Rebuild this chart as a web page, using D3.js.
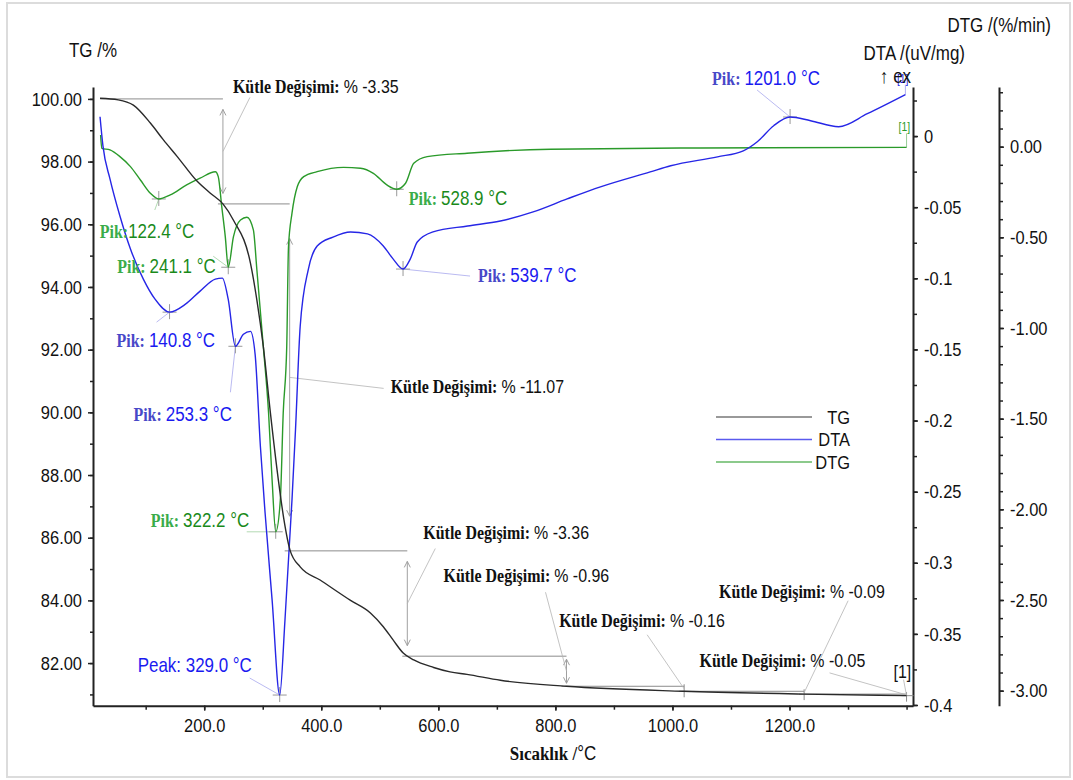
<!DOCTYPE html>
<html>
<head>
<meta charset="utf-8">
<script src="https://cdn.jsdelivr.net/npm/d3@7"></script>
<style>
body { margin: 0; background: #fff; }
svg text { font-family: "Liberation Sans", Arial, sans-serif; }
.serif { font-family: "Liberation Serif", "Times New Roman", serif; font-weight: bold; }
</style>
</head>
<body>
<div id="chart"></div>
<script>
const width = 1073, height = 780;

// TG curve (%)
const tgTemp = [22, 53, 79, 108, 130, 154, 188, 210, 232, 250, 279, 290, 301, 313, 327, 336, 347, 364, 398, 450, 484, 506, 523, 540, 558, 592, 620, 649, 706, 819, 1019, 1224, 1400];
const tgMass = [100.02, 99.97, 99.8, 99.23, 98.7, 98.16, 97.37, 97.0, 96.65, 96.13, 94.76, 93.58, 92.1, 90.0, 87.8, 86.6, 85.58, 85.07, 84.65, 84.0, 83.6, 83.16, 82.73, 82.32, 82.1, 81.86, 81.72, 81.64, 81.45, 81.26, 81.1, 81.01, 80.96];

// DTA curve (uV/mg)
const dtaTemp = [22, 27, 39, 56, 74, 96, 116, 140.8, 168, 193, 219, 231, 241, 253.3, 267, 279, 287, 296, 304, 316, 329, 338, 350, 356, 364, 378, 393, 420, 450, 479, 506, 523, 539.7, 552, 564, 591, 650, 706, 762, 820, 877, 962, 997, 1077, 1121, 1145, 1173, 1201, 1236, 1284, 1333, 1398];
const dtaVal = [0.0136, -0.0069, -0.0301, -0.0562, -0.0794, -0.1006, -0.1147, -0.1238, -0.1182, -0.109, -0.1006, -0.0999, -0.1147, -0.1478, -0.1394, -0.1373, -0.1535, -0.2183, -0.2648, -0.3261, -0.393, -0.3402, -0.2556, -0.2063, -0.1337, -0.0935, -0.0773, -0.071, -0.0674, -0.0688, -0.0773, -0.0865, -0.0935, -0.0865, -0.0745, -0.0674, -0.0632, -0.0597, -0.0533, -0.0442, -0.0357, -0.0252, -0.0209, -0.0146, -0.0104, -0.004, 0.0073, 0.0134, 0.0108, 0.0066, 0.0157, 0.0291];

// DTG curve (%/min)
const dtgTemp = [23, 25, 39, 56, 74, 91, 108, 122.4, 142, 170, 193, 219, 224, 230, 236, 241.1, 250, 262, 273, 284, 290, 301, 310, 316, 322.2, 330, 335, 341, 344, 350, 359, 370, 393, 438, 467, 489, 512, 528.9, 544, 558, 581, 649, 792, 1048, 1400];
const dtgVal = [0.064, -0.009, -0.018, -0.055, -0.11, -0.184, -0.257, -0.2885, -0.266, -0.211, -0.174, -0.138, -0.165, -0.331, -0.496, -0.665, -0.496, -0.404, -0.389, -0.459, -0.68, -1.103, -1.47, -1.838, -2.124, -1.952, -1.469, -1.103, -0.552, -0.367, -0.221, -0.165, -0.138, -0.114, -0.119, -0.147, -0.211, -0.235, -0.202, -0.092, -0.055, -0.036, -0.014, -0.007, -0.004];

// peak annotations
const peakTemp = [122.4, 241.1, 140.8, 253.3, 322.2, 329.0, 528.9, 539.7, 1201.0];
const peakCurve = ["DTG", "DTG", "DTA", "DTA", "DTG", "DTA", "DTG", "DTA", "DTA"];
const peakPrefix = ["Pik:", "Pik: ", "Pik: ", "Pik: ", "Pik: ", "Peak: ", "Pik: ", "Pik: ", "Pik: "];

// mass change steps on TG
const stepStartTemp = 22;
const stepStartMass = 100;
const stepTemp = [232, 346, 547, 819, 1020, 1225, 1400];
const stepChange = [-3.35, -11.07, -3.36, -0.96, -0.16, -0.09, -0.05];

// ticks
const tgTicks = [82, 84, 86, 88, 90, 92, 94, 96, 98, 100];
const tgMinor = d3.range(81, 101, 1);
const tempTicks = [200, 400, 600, 800, 1000, 1200];
const tempMinor = d3.range(100, 1500, 100);
const dtaTicks = [-0.4, -0.35, -0.3, -0.25, -0.2, -0.15, -0.1, -0.05, 0];
const dtaMinor = d3.range(-0.4, 0.03, 0.025);
const dtgTicks = [-3, -2.5, -2, -1.5, -1, -0.5, 0];
const dtgMinor = d3.range(-3, 0.31, 0.1);

const legendNames = ["TG", "DTA", "DTG"];

const colTG = "#2a2a2a", colDTA = "#2626e6", colDTG = "#2a9a2a";
// the reference lettering is tall and narrow: bigger size, squeezed sideways
const FS = 1.16, SX = 0.86;

const svg = d3.select("#chart").append("svg")
    .attr("width", width)
    .attr("height", height);

// outer frame
svg.append("rect")
    .attr("x", 7).attr("y", 3).attr("width", 1063).attr("height", 774)
    .attr("fill", "none").attr("stroke", "#dcdcdc").attr("stroke-width", 2);

const x = d3.scaleLinear().domain([10, 1411]).range([93, 913]);
const yTG = d3.scaleLinear().domain([80.64, 100.38]).range([705.7, 87]);
const yDTA = d3.scaleLinear().domain([-0.4005, 0.0345]).range([705.7, 87]);
const yDTG = d3.scaleLinear().domain([-3.083, 0.329]).range([705.7, 87]);

const noNegZero = n => (Math.abs(n) < 1e-9 ? 0 : n);

function styleAxis(g) {
    g.selectAll(".domain").attr("stroke", "#222").attr("stroke-width", 2);
    g.selectAll(".tick line").attr("stroke", "#222").attr("stroke-width", 1.5);
    g.selectAll(".tick text").attr("font-size", 16.5 * FS).attr("fill", "#111")
        .attr("font-family", "Liberation Sans, Arial, sans-serif");
}
function minorAxis(axis, pos) {
    const g = svg.append("g").attr("transform", pos).call(axis.tickFormat("").tickSizeOuter(0));
    g.select(".domain").remove();
    g.selectAll(".tick line").attr("stroke", "#222").attr("stroke-width", 1.5);
}

// left TG axis
minorAxis(d3.axisLeft(yTG).tickValues(tgMinor).tickSize(3), "translate(93,0)");
svg.append("g").attr("transform", "translate(93,0)")
    .call(d3.axisLeft(yTG).tickValues(tgTicks).tickFormat(d => d.toFixed(2)).tickSize(5).tickPadding(6).tickSizeOuter(0))
    .call(styleAxis);

// bottom temperature axis
minorAxis(d3.axisBottom(x).tickValues(tempMinor).tickSize(4), "translate(0,705.7)");
svg.append("g").attr("transform", "translate(0,705.7)")
    .call(d3.axisBottom(x).tickValues(tempTicks).tickFormat(d => d.toFixed(1)).tickSize(5).tickPadding(8).tickSizeOuter(0))
    .call(styleAxis);

// DTA axis
minorAxis(d3.axisRight(yDTA).tickValues(dtaMinor).tickSize(4), "translate(913,0)");
svg.append("g").attr("transform", "translate(913,0)")
    .call(d3.axisRight(yDTA).tickValues(dtaTicks).tickFormat(d => String(+noNegZero(d).toFixed(2))).tickSize(5).tickPadding(6).tickSizeOuter(0))
    .call(styleAxis);

// DTG axis
minorAxis(d3.axisRight(yDTG).tickValues(dtgMinor).tickSize(4), "translate(999,0)");
svg.append("g").attr("transform", "translate(999,0)")
    .call(d3.axisRight(yDTG).tickValues(dtgTicks).tickFormat(d => noNegZero(d).toFixed(2)).tickSize(5).tickPadding(6).tickSizeOuter(0))
    .call(styleAxis);

// axis titles
svg.append("text").attr("x", 69).attr("y", 57).attr("font-size", 17 * FS).attr("fill", "#111").text("TG /%");
svg.append("text").attr("x", 1051).attr("y", 32).attr("text-anchor", "end").attr("font-size", 17 * FS).attr("fill", "#111").text("DTG /(%/min)");
svg.append("text").attr("x", 965).attr("y", 60).attr("text-anchor", "end").attr("font-size", 17 * FS).attr("fill", "#111").text("DTA /(uV/mg)");
svg.append("text").attr("x", 897).attr("y", 83).attr("font-size", 12).attr("fill", colDTA).text("[1]");
svg.append("text").attr("x", 880).attr("y", 83).attr("font-size", 17 * FS).attr("fill", "#111").text("↑ ex");
const xt = svg.append("text").attr("x", 553).attr("y", 760).attr("text-anchor", "middle").attr("font-size", 17 * FS).attr("fill", "#111");
xt.append("tspan").attr("class", "serif").text("Sıcaklık /");
xt.append("tspan").text("°C");

// curves
const lineTG = d3.line().x((d, i) => x(tgTemp[i])).y(d => yTG(d)).curve(d3.curveMonotoneX);
const lineDTA = d3.line().x((d, i) => x(dtaTemp[i])).y(d => yDTA(d)).curve(d3.curveMonotoneX);
const lineDTG = d3.line().x((d, i) => x(dtgTemp[i])).y(d => yDTG(d)).curve(d3.curveMonotoneX);

const annot = svg.append("g");
const curves = svg.append("g").attr("fill", "none").attr("stroke-width", 1.4);
curves.append("path").attr("d", lineDTG(dtgVal)).attr("stroke", colDTG);
curves.append("path").attr("d", lineDTA(dtaVal)).attr("stroke", colDTA);
curves.append("path").attr("d", lineTG(tgMass)).attr("stroke", colTG);

// end markers [1]
const dtgEnd = [x(dtgTemp[dtgTemp.length - 1]), yDTG(dtgVal[dtgVal.length - 1])];
annot.append("line").attr("x1", dtgEnd[0]).attr("y1", dtgEnd[1]).attr("x2", dtgEnd[0]).attr("y2", dtgEnd[1] - 14)
    .attr("stroke", "#7cc07c").attr("stroke-width", 0.8);
svg.append("text").attr("x", dtgEnd[0] - 8).attr("y", dtgEnd[1] - 16).attr("font-size", 12).attr("fill", colDTG).text("[1]");
const dtaEnd = [x(dtaTemp[dtaTemp.length - 1]), yDTA(dtaVal[dtaVal.length - 1])];
annot.append("line").attr("x1", dtaEnd[0]).attr("y1", dtaEnd[1]).attr("x2", dtaEnd[0]).attr("y2", dtaEnd[1] - 10)
    .attr("stroke", "#9a9af0").attr("stroke-width", 0.8);

// peak annotations
const dtaAt = d3.scaleLinear().domain(dtaTemp).range(dtaVal);
const dtgAt = d3.scaleLinear().domain(dtgTemp).range(dtgVal);
// label offsets from peak point: [label dx, label dy, leader dx, leader dy]
const peakLayout = [
    [-59, 39, -4, 11], [-111, 6, -15, -11], [-53, 35, -13, 10], [-102, 75, -5, 46],
    [-125, -5, -29, 0], [-142, -23, -30, -17], [12, 16, null, null], [75, 13, 67, 7], [-78, -32, -33, -27]
];
peakTemp.forEach((t, i) => {
    const isDTA = peakCurve[i] === "DTA";
    const px = x(t), py = isDTA ? yDTA(dtaAt(t)) : yDTG(dtgAt(t));
    const [lx, ly, ex, ey] = peakLayout[i];
    if (ex !== null) {
        annot.append("line").attr("x1", px).attr("y1", py).attr("x2", px + ex).attr("y2", py + ey)
            .attr("stroke", isDTA ? "#a8a8ee" : "#9fd09f").attr("stroke-width", 0.8);
    }
    annot.append("path").attr("d", `M${px - 7},${py}H${px + 7}M${px},${py - 8}V${py + 7}`)
        .attr("stroke", "#999").attr("stroke-width", 1);
    const txt = svg.append("text").attr("x", px + lx).attr("y", py + ly).attr("font-size", 17 * FS);
    const pre = peakPrefix[i];
    if (pre.startsWith("Peak")) {
        txt.attr("fill", "#1a1af0").text(pre + t.toFixed(1) + " °C");
    } else {
        txt.append("tspan").attr("class", "serif").attr("font-size", 16 * FS)
            .attr("fill", isDTA ? "#4848c8" : "#3aac4a").text(pre);
        txt.append("tspan").attr("fill", isDTA ? "#1a1af0" : "#1a8a1a").text(t.toFixed(1) + " °C");
    }
});

// mass change annotations
const levels = [stepStartMass];
stepChange.forEach(c => levels.push(+(levels[levels.length - 1] + c).toFixed(2)));
const grey = "#8c8c8c";
// label offsets from step midpoint: [label dx, label dy, leader dx, leader dy]
const stepLayout = [
    [10, -58, 27, -54], [101, 16, 94, 11], [16, -65, 28, -55], [-123, -89, -21, -79],
    [-125, -62, -37, -54], [-85, -95, 44, -92], [-207, -28, -77, -22]
];
// top line at the starting mass
annot.append("line").attr("x1", x(stepStartTemp)).attr("x2", x(stepTemp[0]))
    .attr("y1", yTG(levels[0])).attr("y2", yTG(levels[0])).attr("stroke", grey);
stepTemp.forEach((t, i) => {
    const sx = x(t);
    const y0 = yTG(levels[i]), y1 = yTG(levels[i + 1]);
    const xEnd = i < stepTemp.length - 1 ? x(stepTemp[i + 1]) : sx + 7;
    annot.append("line").attr("x1", sx - 5).attr("x2", xEnd).attr("y1", y1).attr("y2", y1).attr("stroke", grey);
    const len = y1 - y0;
    if (len > 15) {
        const a = y0 + len * 0.1, b = y1 - len * 0.1;
        annot.append("path")
            .attr("d", `M${sx},${a}V${b}M${sx - 3},${a + 6}L${sx},${a}L${sx + 3},${a + 6}M${sx - 3},${b - 6}L${sx},${b}L${sx + 3},${b - 6}`)
            .attr("fill", "none").attr("stroke", "#a0a0a0").attr("stroke-width", 1);
    } else {
        annot.append("line").attr("x1", sx).attr("x2", sx).attr("y1", y0 - 2).attr("y2", y1 + 6)
            .attr("stroke", grey).attr("stroke-width", 1);
    }
    const my = (y0 + y1) / 2;
    const [lx, ly, ex, ey] = stepLayout[i];
    annot.append("line").attr("x1", sx).attr("y1", my).attr("x2", sx + ex).attr("y2", my + ey)
        .attr("stroke", "#b4b4b4").attr("stroke-width", 0.8);
    const txt = svg.append("text").attr("x", sx + lx).attr("y", my + ly).attr("font-size", 16 * FS).attr("fill", "#111");
    txt.append("tspan").attr("class", "serif").text("Kütle Değişimi: ");
    txt.append("tspan").text("% " + stepChange[i].toFixed(2));
});
// [1] marker at TG end
const tgEnd = [x(tgTemp[tgTemp.length - 1]), yTG(tgMass[tgMass.length - 1])];
annot.append("line").attr("x1", tgEnd[0]).attr("y1", tgEnd[1]).attr("x2", tgEnd[0] - 3).attr("y2", tgEnd[1] - 16)
    .attr("stroke", "#b4b4b4").attr("stroke-width", 0.8);
svg.append("text").attr("x", tgEnd[0] - 13).attr("y", tgEnd[1] - 18).attr("font-size", 16 * FS).attr("fill", "#111").text("[1]");

// legend
const legColors = ["#777", "#5a5aee", "#66b866"];
const leg = svg.append("g").attr("transform", "translate(716,417)");
legendNames.forEach((n, i) => {
    leg.append("line").attr("x1", 0).attr("x2", 96).attr("y1", i * 22.5).attr("y2", i * 22.5)
        .attr("stroke", legColors[i]).attr("stroke-width", 1.5);
    leg.append("text").attr("x", 134).attr("y", i * 22.5 + 7).attr("text-anchor", "end")
        .attr("font-size", 16.5 * FS).attr("fill", "#111").text(n);
});

// squeeze every text sideways around its own anchor
svg.selectAll("text").each(function () {
    const t = d3.select(this);
    const ax = +t.attr("x") || 0;
    t.attr("transform", `translate(${ax},0) scale(${SX},1) translate(${-ax},0)`);
});
</script>
</body>
</html>
